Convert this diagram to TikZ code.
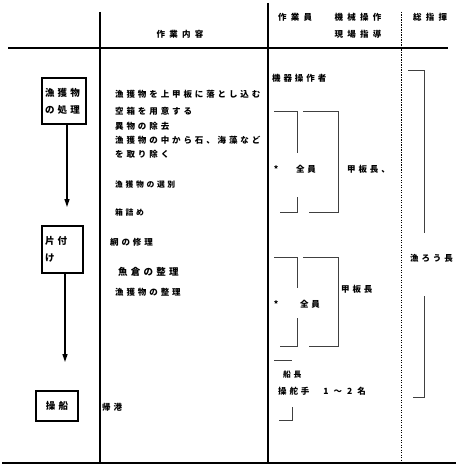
\documentclass[tikz,border=0pt]{standalone}
\usepackage{fontspec}
\setmainfont{Noto Sans CJK JP}
\newfontfamily\jp{Noto Sans CJK JP}[LetterSpace=34]
\newfontfamily\jph{Noto Sans CJK JP}[LetterSpace=50]
\usetikzlibrary{arrows.meta}
\begin{document}
\begin{tikzpicture}[x=1pt,y=-1pt,
  txt/.style={font=\jp\bfseries\fontsize{8.5}{10}\selectfont, inner sep=0pt, anchor=west},
  head/.style={font=\jph\bfseries\fontsize{8.5}{10}\selectfont, inner sep=0pt, anchor=center},
  small/.style={font=\jp\bfseries\fontsize{7.8}{10}\selectfont},
  big/.style={font=\jp\bfseries\fontsize{9.5}{10}\selectfont},
  boxnode/.style={draw, line width=1.3pt, inner sep=3pt, align=left,
    font=\jp\bfseries\fontsize{9.5}{17}\selectfont},
  rule/.style={line width=1.2pt},
  brk/.style={line width=0.7pt, black!75},
  arr/.style={line width=1.3pt, -{Triangle[width=5pt,length=8pt]}}
]
\useasboundingbox[fill=white] (0,0) rectangle (456,468);

% table rules
\draw[rule] (8,48) -- (448,48);
\draw[line width=1.6pt] (2,463) -- (456,463);
\draw[rule] (100,12) -- (100,463);
\draw[rule] (268,3) -- (268,463);
\draw[line width=1pt, dash pattern=on 1.2pt off 1.3pt] (401,12) -- (401,463);

% header
\node[head] (h1) at (180,34) {作業内容};
\node[head] (h2) at (295,17) {作業員};
\node[head] (h3) at (358,17) {機械操作};
\node[head] (h4) at (358,34) {現場指導};
\node[head] (h5) at (430,17) {総指揮};

% left process boxes
\node[boxnode, minimum width=44pt, minimum height=46pt, text width=38pt] (b1) at (64,101) {漁獲物\\の処理};
\node[boxnode, minimum width=41pt, minimum height=47pt, text width=35pt] (b2) at (62.5,249.5) {片付\\け};
\node[boxnode, minimum width=42pt, minimum height=30pt, align=center] (b3) at (57,406) {操船};
\coordinate (a1) at (67,207);
\coordinate (a2) at (65,362);
\draw[arr] (b1.south -| a1) -- (a1);
\draw[arr] (b2.south -| a2) -- (a2);

% work contents
\node[txt] (t1) at (115,94) {漁獲物を上甲板に落とし込む};
\node[txt] (t2) at (115,111) {空箱を用意する};
\node[txt] (t3) at (115,126) {異物の除去};
\node[txt] (t4) at (115,140) {漁獲物の中から石、海藻など};
\node[txt] (t5) at (115,154) {を取り除く};
\node[txt, small] (t6) at (115,185) {漁獲物の選別};
\node[txt, small] (t7) at (115,213) {箱詰め};
\node[txt] (t8) at (110,242) {網の修理};
\node[txt, big] (t9) at (118,272) {魚倉の整理};
\node[txt] (t10) at (115,292) {漁獲物の整理};
\node[txt] (t11) at (102,407) {帰港};

% workers column
\node[txt] (w1) at (272,78) {機器操作者};
% group 1
\draw[brk] (274,111) -- (297,111) -- (297,153);
\draw[brk] (297,197) -- (297,212) -- (280,212);
\draw[brk] (303,111) -- (338,111) -- (338,212) -- (309,212);
\node[txt, anchor=center] (s1) at (276,169) {*};
\node[txt, anchor=center] (z1) at (306,169) {全員};
\node[txt] (k1) at (347,169) {甲板長、};
% group 2
\draw[brk] (274,257) -- (297,257) -- (297,288);
\draw[brk] (297,318) -- (297,346) -- (280,346);
\draw[brk] (303,257) -- (338,257) -- (338,346) -- (309,346);
\node[txt, anchor=center] (s2) at (276,304) {*};
\node[txt, anchor=center] (z2) at (310,304) {全員};
\node[txt] (k2) at (341,289) {甲板長};
% steering
\draw[brk] (274,360) -- (292,360);
\node[txt, small] (c1) at (283,375) {船長};
\node[txt] (c2) at (278,391) {操舵手\hspace{14pt}1\hspace{5pt}～\hspace{5pt}2\hspace{5pt}名};
\draw[brk] (292,407) -- (292,420) -- (279,420);

% general command column
\draw[brk] (408,70) -- (424,70) -- (424,233);
\draw[brk] (424,296) -- (424,397) -- (413,397);
\node[txt] (g1) at (410,258) {漁ろう長};
\end{tikzpicture}
\end{document}
